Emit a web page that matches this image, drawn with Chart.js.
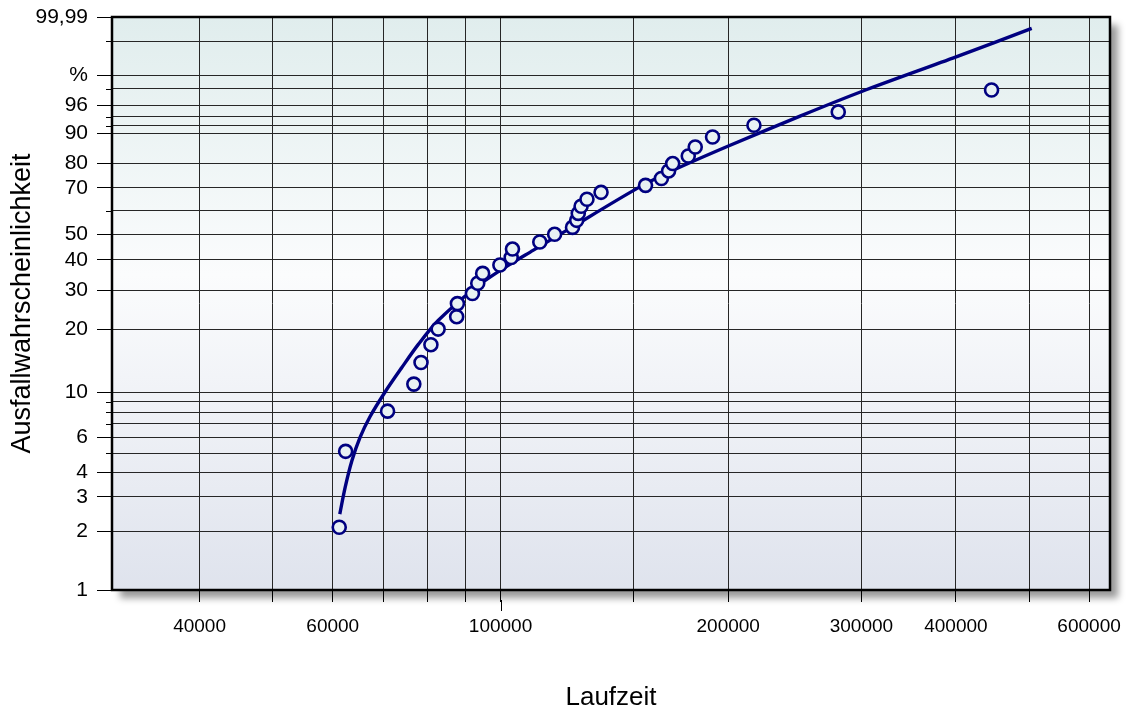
<!DOCTYPE html>
<html>
<head>
<meta charset="utf-8">
<script src="https://cdn.jsdelivr.net/npm/chart.js@4/dist/chart.umd.min.js"></script>
<style>
  html, body { margin: 0; padding: 0; background: #fff; }
  #wrap { width: 1127px; height: 709px; }
</style>
</head>
<body>
<div id="wrap"><canvas id="weibullChart"></canvas></div>
<script>
// Laufzeit / Ausfallwahrscheinlichkeit (%) der Einzelwerte
const runTimes = [61200, 62400, 70900, 76800, 78500, 80900, 82700, 87500, 87700, 91800,
  93300, 94700, 99800, 103300, 103700, 112700, 117900, 124500, 126100, 126700,
  127800, 130100, 135800, 155500, 163200, 166800, 168900, 177100, 180900, 190700,
  216300, 279600, 445900];
const failureProb = [2.1, 5.1, 8.1, 11.0, 14.0, 17.0, 20.1, 22.9, 26.2, 29.0,
  32.1, 35.3, 38.2, 40.9, 44.1, 46.9, 50.0, 52.9, 55.9, 58.9,
  62.0, 65.1, 68.1, 71.1, 74.0, 77.1, 80.0, 82.8, 85.9, 89.0,
  92.1, 94.9, 97.9];

// Ausgleichskurve
const fitTimes = [61300, 62300, 63600, 65200, 67200, 70400, 74000, 77900, 82700, 92000,
  99900, 110400, 122300, 151400, 169100, 201200, 248900, 300300, 401100, 503900];
const fitProb = [2.45, 3.34, 4.57, 5.99, 7.6, 10.1, 13.2, 17.1, 21.99, 30.2,
  36.3, 43.58, 51.64, 69.71, 77.37, 86.49, 94.1, 97.75, 99.68, 99.968];

const xTicks = [40000, 50000, 60000, 70000, 80000, 90000, 100000, 150000, 200000, 300000, 400000, 500000, 600000];
const xTickLabels = ["40000", "", "60000", "", "", "", "100000", "", "200000", "300000", "400000", "", "600000"];

const yTicks = [1, 2, 3, 4, 5, 6, 7, 8, 9, 10, 20, 30, 40, 50, 60, 70, 80, 90, 92, 94, 96, 98, 99, 99.9, 99.99];
const yTickLabels = ["1", "2", "3", "4", "", "6", "", "", "", "10", "20", "30", "40", "50", "", "70", "80", "90", "", "", "96", "", "%", "", "99,99"];

// Weibull-Papier: y = ln(-ln(1 - F))
const weib = (p) => Math.log(-Math.log(1 - p / 100));

const FONT = "'Liberation Sans', Arial, Helvetica, sans-serif";

const paperPlugin = {
  id: "paper",
  beforeDraw(chart) {
    const { ctx, chartArea: a } = chart;
    ctx.save();
    ctx.shadowColor = "rgba(0,0,0,0.4)";
    ctx.shadowBlur = 7;
    ctx.shadowOffsetX = 8;
    ctx.shadowOffsetY = 8;
    ctx.fillStyle = "#fff";
    ctx.fillRect(a.left, a.top, a.right - a.left, a.bottom - a.top);
    ctx.restore();

    ctx.save();
    const g = ctx.createLinearGradient(0, a.top, 0, a.bottom);
    g.addColorStop(0, "#e0eded");
    g.addColorStop(0.45, "#fbfcfd");
    g.addColorStop(1, "#dfe3ed");
    ctx.fillStyle = g;
    ctx.fillRect(a.left, a.top, a.right - a.left, a.bottom - a.top);
    ctx.restore();
  },
  afterDraw(chart) {
    const { ctx, chartArea: a, scales } = chart;
    ctx.save();
    ctx.strokeStyle = "#000";
    ctx.lineWidth = 1;
    // kurze Striche fuer unbeschriftete y-Teilstriche
    yTicks.forEach((v, i) => {
      if (yTickLabels[i]) return;
      const py = Math.round(scales.y.getPixelForValue(weib(v))) + 0.5;
      ctx.beginPath();
      ctx.moveTo(a.left - 6, py);
      ctx.lineTo(a.left, py);
      ctx.stroke();
    });
    // laengerer Strich bei 100000
    const px = Math.round(scales.x.getPixelForValue(100000)) + 0.5;
    ctx.beginPath();
    ctx.moveTo(px, a.bottom + 10);
    ctx.lineTo(px, a.bottom + 21);
    ctx.stroke();

    ctx.lineWidth = 2.5;
    ctx.strokeRect(a.left, a.top, a.right - a.left, a.bottom - a.top);
    ctx.restore();
  },
};

const ctx = document.getElementById("weibullChart").getContext("2d");
new Chart(ctx, {
  type: "scatter",
  data: {
    datasets: [
      {
        label: "Messwerte",
        data: runTimes.map((t, i) => ({ x: t, y: weib(failureProb[i]) })),
        pointRadius: 6.5,
        pointBorderWidth: 2.6,
        pointBorderColor: "#000080",
        pointBackgroundColor: "#e8f1f3",
        showLine: false,
      },
      {
        label: "Ausgleich",
        type: "line",
        data: fitTimes.map((t, i) => ({ x: t, y: weib(fitProb[i]) })),
        borderColor: "#000080",
        borderWidth: 3.4,
        pointRadius: 0,
        tension: 0.3,
        fill: false,
        showLine: true,
      },
    ],
  },
  options: {
    responsive: true,
    maintainAspectRatio: false,
    animation: false,
    events: [],
    layout: { padding: { top: 17, right: 17, left: 0, bottom: 0 } },
    plugins: {
      legend: { display: false },
      tooltip: { enabled: false },
    },
    scales: {
      x: {
        type: "logarithmic",
        min: 30640,
        max: 639500,
        afterBuildTicks: (s) => { s.ticks = xTicks.map((v) => ({ value: v })); },
        afterFit: (s) => { s.height = 119; s.paddingLeft = 0; s.paddingRight = 0; },
        ticks: {
          autoSkip: false,
          maxRotation: 0,
          color: "#000",
          padding: 13,
          font: { family: FONT, size: 19 },
          callback: (v, i) => xTickLabels[i],
        },
        grid: { color: "#262626", lineWidth: 1, tickLength: 12, tickColor: "#000" },
        border: { display: false },
        title: {
          display: true,
          text: "Laufzeit",
          color: "#000",
          font: { family: FONT, size: 26, lineHeight: 0.85 },
          padding: { top: 0, bottom: 0 },
        },
      },
      y: {
        type: "linear",
        min: weib(1),
        max: weib(99.99),
        afterBuildTicks: (s) => { s.ticks = yTicks.map((v) => ({ value: weib(v) })); },
        afterFit: (s) => { s.width = 112; s.paddingTop = 0; s.paddingBottom = 0; },
        ticks: {
          autoSkip: false,
          color: "#000",
          padding: 9,
          font: { family: FONT, size: 21 },
          callback: (v, i) => yTickLabels[i],
        },
        grid: {
          color: "#262626",
          lineWidth: 1,
          tickLength: 15,
          tickColor: (c) => (yTickLabels[c.index] ? "#000" : "rgba(0,0,0,0)"),
        },
        border: { display: false },
        title: {
          display: true,
          text: "Ausfallwahrscheinlichkeit",
          color: "#000",
          font: { family: FONT, size: 27 },
          padding: { top: 6, bottom: 0 },
        },
      },
    },
  },
  plugins: [paperPlugin],
});
</script>
</body>
</html>
